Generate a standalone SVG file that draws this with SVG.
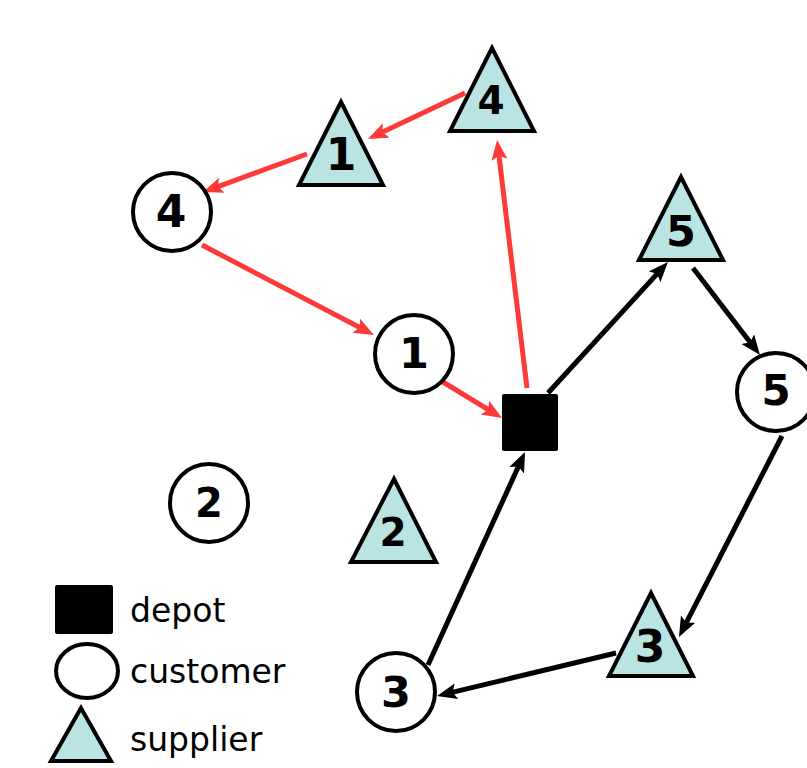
<svg xmlns="http://www.w3.org/2000/svg" width="807" height="768" viewBox="0 0 807 768">
<style>
.tri{fill:#bae3e3;stroke:#000;stroke-width:4;stroke-linejoin:miter}
.cir{fill:#fff;stroke:#000;stroke-width:4}
.num{font-family:"DejaVu Sans",sans-serif;font-weight:bold;text-anchor:middle;fill:#000}
.leg{font-family:"DejaVu Sans",sans-serif;font-size:33px;fill:#000}
.red{stroke:#ff3838;stroke-width:5;fill:none;marker-end:url(#ar)}
.blk{stroke:#000;stroke-width:5;fill:none;marker-end:url(#ab)}
</style>
<defs>
<marker id="ar" markerUnits="userSpaceOnUse" markerWidth="22" markerHeight="18" refX="12" refY="8" orient="auto"><path d="M0,0 L20,8 L0,16 L4,8 z" fill="#ff3838"/></marker>
<marker id="ab" markerUnits="userSpaceOnUse" markerWidth="22" markerHeight="18" refX="12" refY="8" orient="auto"><path d="M0,0 L20,8 L0,16 L4,8 z" fill="#000"/></marker>
</defs>
<g id="connectors">
<line class="red" x1="465" y1="93" x2="375.2" y2="135.6"/>
<line class="red" x1="307" y1="154" x2="210.5" y2="189.3"/>
<line class="red" x1="202" y1="245" x2="366.9" y2="331.3"/>
<line class="red" x1="443" y1="382" x2="495.2" y2="413.8"/>
<line class="red" x1="527" y1="388" x2="498" y2="147.9"/>
<line class="blk" x1="548" y1="393" x2="662.6" y2="267.9"/>
<line class="blk" x1="693" y1="268" x2="755.1" y2="348.7"/>
<line class="blk" x1="782" y1="436" x2="682.6" y2="629.9"/>
<line class="blk" x1="616" y1="653" x2="444.8" y2="694.1"/>
<line class="blk" x1="428" y1="665" x2="521.7" y2="459.3"/>
</g>
<g id="depot"><rect x="502" y="394" width="56" height="57" rx="2" fill="#000"/></g>
<g id="supplier4"><polygon class="tri" points="492,48 450,131 534,131"/><text class="num" x="491" y="114" font-size="39">4</text></g>
<g id="supplier1"><polygon class="tri" points="341,102 299,185 383,185"/><text class="num" x="341" y="170" font-size="44">1</text></g>
<g id="supplier5"><polygon class="tri" points="681,177 639,260 723,260"/><text class="num" x="681" y="246" font-size="43">5</text></g>
<g id="supplier2"><polygon class="tri" points="394,479 351,562 436,562"/><text class="num" x="393" y="546" font-size="39">2</text></g>
<g id="supplier3"><polygon class="tri" points="651,593 609,676 693,676"/><text class="num" x="650" y="662" font-size="44">3</text></g>
<g id="customer4"><circle class="cir" cx="172" cy="212" r="39"/><text class="num" x="171" y="227" font-size="44">4</text></g>
<g id="customer1"><circle class="cir" cx="414" cy="354" r="39"/><text class="num" x="414" y="368" font-size="43">1</text></g>
<g id="customer5"><circle class="cir" cx="776" cy="392" r="39"/><text class="num" x="776" y="405" font-size="42">5</text></g>
<g id="customer2"><circle class="cir" cx="209" cy="503" r="39"/><text class="num" x="209" y="517" font-size="40">2</text></g>
<g id="customer3"><circle class="cir" cx="396" cy="692" r="39"/><text class="num" x="396" y="707" font-size="43">3</text></g>
<g id="legend">
<rect x="55" y="585" width="58" height="49" rx="2" fill="#000"/>
<text class="leg" x="130" y="622">depot</text>
<ellipse cx="87" cy="671" rx="31" ry="27" fill="#fff" stroke="#000" stroke-width="4"/>
<text class="leg" x="130" y="683">customer</text>
<polygon class="tri" points="81,708 51,761 111,761"/>
<text class="leg" x="130" y="751">supplier</text>
</g>
</svg>
